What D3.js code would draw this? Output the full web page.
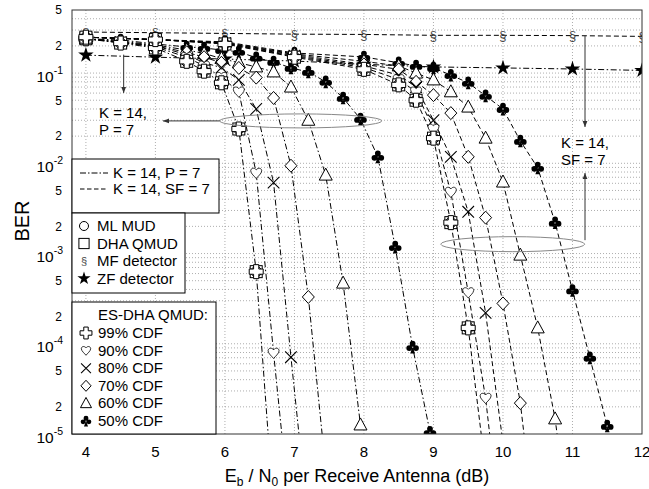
<!DOCTYPE html>
<html>
<head>
<meta charset="utf-8">
<script src="https://cdn.jsdelivr.net/npm/d3@7"></script>
<style>
  body { margin: 0; background: #fff; }
  svg { display: block; font-family: "Liberation Sans", Arial, sans-serif; }
</style>
</head>
<body>
<svg id="chart"></svg>
<script>
// ---- data ----
const xTicks = [4, 5, 6, 7, 8, 9, 10, 11, 12];
const xInt = [4, 5, 6, 7, 8, 9, 10, 11, 12];
const mfBer = [0.285, 0.28, 0.275, 0.27, 0.268, 0.262, 0.262, 0.26, 0.255];
const zfBer = [0.158, 0.15, 0.143, 0.136, 0.125, 0.117, 0.114, 0.111, 0.107];

// K = 14, P = 7 (dash-dot)
const xP7 = [4, 4.5, 5, 5.45, 5.7, 5.95, 6.2, 6.45, 6.7, 6.95, 7.2, 7.45, 7.7, 7.95, 8.2, 8.45, 8.7, 8.95];
const p7Opt = [0.24, 0.215, 0.19, 0.135, 0.105, 0.078, 0.024, 6.3e-4, 1.5e-6];
const p7Cdf90 = [0.24, 0.218, 0.195, 0.15, 0.12, 0.09, 0.062, 7.8e-3, 7.9e-5, 1e-6];
const p7Cdf80 = [0.24, 0.22, 0.2, 0.16, 0.13, 0.115, 0.084, 0.04, 6.1e-3, 7.1e-5, 1e-6];
const p7Cdf70 = [0.24, 0.22, 0.2, 0.17, 0.15, 0.13, 0.114, 0.089, 0.053, 9.4e-3, 3.3e-4, 4e-6];
const p7Cdf60 = [0.24, 0.225, 0.205, 0.18, 0.165, 0.145, 0.13, 0.117, 0.103, 0.07, 0.03, 7.4e-3, 4.7e-4, 1.26e-5];
const p7Cdf50 = [0.24, 0.233, 0.21, 0.195, 0.19, 0.18, 0.172, 0.148, 0.133, 0.114, 0.103, 0.08, 0.053, 0.031, 0.0118, 1.18e-3, 9.2e-5, 1.05e-5];

// K = 14, SF = 7 (dashed)
const xSF7 = [4, 5, 6, 7, 8, 8.5, 8.75, 9, 9.25, 9.5, 9.75, 10, 10.25, 10.5, 10.75, 11, 11.25, 11.5];
const sfOpt = [0.25, 0.235, 0.21, 0.15, 0.11, 0.074, 0.05, 0.019, 2.2e-3, 1.5e-4, 4e-6];
const sfCdf90 = [0.25, 0.235, 0.212, 0.153, 0.115, 0.085, 0.062, 0.024, 4.8e-3, 3.7e-4, 2.5e-5, 5e-7];
const sfCdf80 = [0.25, 0.235, 0.214, 0.156, 0.12, 0.095, 0.07, 0.03, 0.0118, 2.9e-3, 2.2e-4, 8e-6];
const sfCdf70 = [0.25, 0.235, 0.216, 0.16, 0.125, 0.11, 0.08, 0.057, 0.036, 0.0118, 2.5e-3, 2.8e-4, 2.2e-5, 5e-7];
const sfCdf60 = [0.25, 0.235, 0.218, 0.163, 0.135, 0.12, 0.1, 0.084, 0.062, 0.042, 0.019, 6.2e-3, 9.6e-4, 1.5e-4, 1.47e-5, 5e-7];
const sfCdf50 = [0.25, 0.235, 0.222, 0.167, 0.151, 0.13, 0.12, 0.114, 0.095, 0.078, 0.056, 0.04, 0.0177, 8.9e-3, 2.2e-3, 3.9e-4, 7e-5, 1.23e-5];

const legendLines = ["K = 14, P = 7", "K = 14, SF = 7"];
const legendDetectors = ["ML MUD", "DHA QMUD", "MF detector", "ZF detector"];
const legendCdf = ["99% CDF", "90% CDF", "80% CDF", "70% CDF", "60% CDF", "50% CDF"];

// ---- layout ----
const width = 649;
const height = 489;
const margin = { left: 72, right: 7, top: 10, bottom: 55 };
const svg = d3.select("#chart").attr("width", width).attr("height", height);

const xScale = d3.scaleLinear().domain([3.8, 12]).range([margin.left, width - margin.right]);
const yScale = d3.scaleLog().domain([1e-5, 0.5]).range([height - margin.bottom, margin.top]);

const dashDot = "6,2.5,1.5,2.5";
const dashed = "5,3";

svg.append("defs").append("clipPath").attr("id", "plot-clip")
  .append("rect")
  .attr("x", margin.left).attr("y", margin.top)
  .attr("width", xScale.range()[1] - margin.left)
  .attr("height", yScale.range()[0] - margin.top);

d3.select("defs").append("marker")
  .attr("id", "arrow").attr("viewBox", "0 0 10 10")
  .attr("refX", 10).attr("refY", 5)
  .attr("markerWidth", 7).attr("markerHeight", 6)
  .attr("markerUnits", "userSpaceOnUse")
  .attr("orient", "auto")
  .append("path").attr("d", "M0,1L10,5L0,9Z").attr("fill", "#333");

// ---- grid ----
const gridY = [];
for (let k = -5; k <= -1; k++) {
  for (let m = 1; m <= 9; m++) {
    const v = m * Math.pow(10, k);
    if (v > 1e-5 && v < 0.5) gridY.push(v);
  }
}
svg.append("g").selectAll("line").data(gridY).join("line")
  .attr("x1", margin.left).attr("x2", xScale.range()[1])
  .attr("y1", d => yScale(d)).attr("y2", d => yScale(d))
  .attr("stroke", "#999").attr("stroke-width", 0.8).attr("stroke-dasharray", "1,2");
svg.append("g").selectAll("line").data(xTicks.filter(d => d < 12)).join("line")
  .attr("x1", d => xScale(d)).attr("x2", d => xScale(d))
  .attr("y1", margin.top).attr("y2", yScale.range()[0])
  .attr("stroke", "#999").attr("stroke-width", 0.8).attr("stroke-dasharray", "1,2");

// ---- marker shapes ----
function clubPath(s) {
  const r = 2.9 * s;
  const circ = (cx, cy) => `M${cx - r},${cy}a${r},${r} 0 1,0 ${2 * r},0a${r},${r} 0 1,0 ${-2 * r},0`;
  return circ(0, -3.3 * s) + circ(-3.4 * s, 1 * s) + circ(3.4 * s, 1 * s) +
    `M0,0L${2.4 * s},${6.4 * s}L${-2.4 * s},${6.4 * s}Z`;
}
function crossPath(s) {
  const a = 2.6 * s, L = 7 * s;
  return `M${-a},${-L}L${a},${-L}L${a},${-a}L${L},${-a}L${L},${a}L${a},${a}L${a},${L}L${-a},${L}L${-a},${a}L${-L},${a}L${-L},${-a}L${-a},${-a}Z`;
}
function heartPath(s) {
  const p = [[0, 5.5], [-1.5, 3.5], [-5.5, 0.5], [-5.5, -2.2], [-5.5, -4.8], [-2.2, -6], [0, -3.2],
    [2.2, -6], [5.5, -4.8], [5.5, -2.2], [5.5, 0.5], [1.5, 3.5], [0, 5.5]].map(q => [q[0] * s, q[1] * s]);
  return `M${p[0]}C${p[1]} ${p[2]} ${p[3]}C${p[4]} ${p[5]} ${p[6]}C${p[7]} ${p[8]} ${p[9]}C${p[10]} ${p[11]} ${p[12]}Z`;
}

function drawMarker(g, type, s) {
  s = s || 1;
  if (type === "circle") {
    g.append("circle").attr("r", 5.3 * s).attr("fill", "#fff").attr("stroke", "#000");
  } else if (type === "square") {
    g.append("rect").attr("x", -6 * s).attr("y", -6 * s).attr("width", 12 * s).attr("height", 12 * s)
      .attr("fill", "#fff").attr("stroke", "#000");
  } else if (type === "cross") {
    g.append("path").attr("d", crossPath(s)).attr("fill", "#fff").attr("stroke", "#000");
  } else if (type === "heart") {
    g.append("path").attr("d", heartPath(s)).attr("fill", "#fff").attr("stroke", "#000").attr("stroke-width", 0.8);
  } else if (type === "xmark") {
    const a = 5.8 * s;
    g.append("path").attr("d", `M${-a},${-a}L${a},${a}M${-a},${a}L${a},${-a}`).attr("stroke", "#000").attr("stroke-width", 1.1);
  } else if (type === "diamond") {
    g.append("path").attr("d", `M0,${-6.5 * s}L${6 * s},0L0,${6.5 * s}L${-6 * s},0Z`).attr("fill", "#fff").attr("stroke", "#000");
  } else if (type === "triangle") {
    g.append("path").attr("d", `M0,${-7 * s}L${6.5 * s},${5 * s}L${-6.5 * s},${5 * s}Z`).attr("fill", "#fff").attr("stroke", "#000");
  } else if (type === "club") {
    g.append("path").attr("d", clubPath(s)).attr("fill", "#000");
  } else if (type === "star") {
    g.append("path").attr("d", d3.symbol(d3.symbolStar, 75 * s * s)()).attr("fill", "#000");
  } else if (type === "mf") {
    g.append("text").text("§").attr("text-anchor", "middle").attr("y", 4.5 * s)
      .attr("font-size", 13 * s).attr("fill", "#444");
  }
}

// ---- series ----
const seriesList = [
  { xs: xInt, ys: mfBer, dash: dashed, markers: ["mf"] },
  { xs: xInt, ys: zfBer, dash: dashDot, markers: ["star"] },
  { xs: xP7, ys: p7Cdf50, dash: dashDot, markers: ["club"] },
  { xs: xP7, ys: p7Cdf60, dash: dashDot, markers: ["triangle"] },
  { xs: xP7, ys: p7Cdf70, dash: dashDot, markers: ["diamond"] },
  { xs: xP7, ys: p7Cdf80, dash: dashDot, markers: ["xmark"] },
  { xs: xP7, ys: p7Cdf90, dash: dashDot, markers: ["heart"] },
  { xs: xP7, ys: p7Opt, dash: dashDot, markers: ["square", "circle", "cross"] },
  { xs: xSF7, ys: sfCdf50, dash: dashed, markers: ["club"] },
  { xs: xSF7, ys: sfCdf60, dash: dashed, markers: ["triangle"] },
  { xs: xSF7, ys: sfCdf70, dash: dashed, markers: ["diamond"] },
  { xs: xSF7, ys: sfCdf80, dash: dashed, markers: ["xmark"] },
  { xs: xSF7, ys: sfCdf90, dash: dashed, markers: ["heart"] },
  { xs: xSF7, ys: sfOpt, dash: dashed, markers: ["square", "circle", "cross"] },
];

const plot = svg.append("g").attr("clip-path", "url(#plot-clip)");
const line = d3.line().x(d => xScale(d[0])).y(d => yScale(d[1]));

seriesList.forEach(function (s) {
  const pts = s.ys.map((v, i) => [s.xs[i], v]);
  plot.append("path").datum(pts)
    .attr("d", line)
    .attr("fill", "none").attr("stroke", "#000").attr("stroke-width", 1)
    .attr("stroke-dasharray", s.dash);
});
seriesList.forEach(function (s) {
  s.ys.forEach(function (v, i) {
    if (v < 1e-5) return;
    s.markers.forEach(function (m) {
      const g = plot.append("g").attr("transform", "translate(" + xScale(s.xs[i]) + "," + yScale(v) + ")");
      drawMarker(g, m, 1);
    });
  });
});

// ---- annotations ----
const ann = svg.append("g").attr("stroke", "#333").attr("fill", "none");
ann.append("ellipse").attr("cx", xScale(7.09)).attr("cy", yScale(0.0295)).attr("rx", 81).attr("ry", 7)
  .attr("stroke", "#888");
ann.append("line").attr("x1", xScale(7.09) - 81).attr("x2", 163)
  .attr("y1", yScale(0.0295)).attr("y2", yScale(0.0295)).attr("marker-end", "url(#arrow)");
ann.append("line").attr("x1", xScale(4.5) + 3).attr("x2", xScale(4.5) + 3)
  .attr("y1", yScale(0.16)).attr("y2", 93).attr("marker-end", "url(#arrow)");
ann.append("ellipse").attr("cx", xScale(10.14)).attr("cy", yScale(1.27e-3)).attr("rx", 72).attr("ry", 7.5)
  .attr("stroke", "#888");
ann.append("line").attr("x1", xScale(11.18)).attr("x2", xScale(11.18))
  .attr("y1", yScale(0.26)).attr("y2", 127).attr("marker-end", "url(#arrow)");
ann.append("line").attr("x1", xScale(11.18)).attr("x2", xScale(11.18))
  .attr("y1", yScale(1.27e-3) - 4).attr("y2", 173).attr("marker-end", "url(#arrow)");

const annText = svg.append("g").attr("font-size", 15).attr("fill", "#000");
annText.append("text").attr("x", 99).attr("y", 118).text("K = 14,");
annText.append("text").attr("x", 99).attr("y", 135).text("P = 7");
annText.append("text").attr("x", 561).attr("y", 148).text("K = 14,");
annText.append("text").attr("x", 561).attr("y", 165).text("SF = 7");

// ---- frame ----
svg.append("rect")
  .attr("x", margin.left).attr("y", margin.top)
  .attr("width", xScale.range()[1] - margin.left)
  .attr("height", yScale.range()[0] - margin.top)
  .attr("fill", "none").attr("stroke", "#333").attr("stroke-width", 1);

// ---- axes labels ----
svg.append("g").selectAll("text").data(xTicks).join("text")
  .attr("x", d => xScale(d)).attr("y", 457)
  .attr("text-anchor", "middle").attr("font-size", 15)
  .text(d => d);

const yLabels = [];
for (let k = -5; k <= -1; k++) {
  yLabels.push({ v: Math.pow(10, k), exp: k });
  [2, 5].forEach(m => {
    const v = m * Math.pow(10, k);
    if (v <= 0.5) yLabels.push({ v: v, m: m });
  });
}
const yl = svg.append("g");
yLabels.forEach(function (d) {
  if (d.exp !== undefined) {
    const t = yl.append("text").attr("x", 63).attr("y", yScale(d.v) + 8.5)
      .attr("text-anchor", "end").attr("font-size", 15.5);
    t.append("tspan").text("10");
    t.append("tspan").attr("dy", -8).attr("font-size", 10.5).text(d.exp);
  } else {
    yl.append("text").attr("x", 62).attr("y", yScale(d.v) + 4.3)
      .attr("text-anchor", "end").attr("font-size", 12).text(d.m);
  }
});

svg.append("text")
  .attr("transform", "translate(29," + 221 + ") rotate(-90)")
  .attr("text-anchor", "middle").attr("font-size", 20).text("BER");

const xl = svg.append("text").attr("x", 357).attr("y", 482)
  .attr("text-anchor", "middle").attr("font-size", 18);
xl.append("tspan").text("E");
xl.append("tspan").attr("font-size", 12).attr("dy", 4).text("b");
xl.append("tspan").attr("dy", -4).text(" / N");
xl.append("tspan").attr("font-size", 12).attr("dy", 4).text("0");
xl.append("tspan").attr("dy", -4).text(" per Receive Antenna (dB)");

// ---- legends ----
const leg1 = svg.append("g");
leg1.append("rect").attr("x", 72).attr("y", 159).attr("width", 147).attr("height", 54)
  .attr("fill", "#fff").attr("stroke", "#000");
[dashDot, dashed].forEach(function (dash, i) {
  const cy = 173 + i * 16;
  leg1.append("line").attr("x1", 80).attr("x2", 108).attr("y1", cy).attr("y2", cy)
    .attr("stroke", "#000").attr("stroke-dasharray", dash === dashDot ? "6,2,1.5,2" : "4.5,2.5");
  leg1.append("text").attr("x", 113).attr("y", cy + 5).attr("font-size", 15).text(legendLines[i]);
});

const leg2 = svg.append("g");
leg2.append("rect").attr("x", 72).attr("y", 213).attr("width", 113).attr("height", 80)
  .attr("fill", "#fff").attr("stroke", "#000");
const detMarkers = ["circle", "square", "mf", "star"];
legendDetectors.forEach(function (name, i) {
  const cy = 226 + i * 17.5;
  const g = leg2.append("g").attr("transform", "translate(84," + cy + ")");
  drawMarker(g, detMarkers[i], 0.85);
  leg2.append("text").attr("x", 97).attr("y", cy + 5).attr("font-size", 15).text(name);
});

const leg3 = svg.append("g");
leg3.append("rect").attr("x", 72).attr("y", 302).attr("width", 144).attr("height", 132)
  .attr("fill", "#fff").attr("stroke", "#000");
leg3.append("text").attr("x", 98).attr("y", 320).attr("font-size", 15).text("ES-DHA QMUD:");
const cdfMarkers = ["cross", "heart", "xmark", "diamond", "triangle", "club"];
legendCdf.forEach(function (name, i) {
  const cy = 333 + i * 17.6;
  const g = leg3.append("g").attr("transform", "translate(86," + cy + ")");
  drawMarker(g, cdfMarkers[i], 0.85);
  leg3.append("text").attr("x", 98).attr("y", cy + 5).attr("font-size", 15).text(name);
});
</script>
</body>
</html>
